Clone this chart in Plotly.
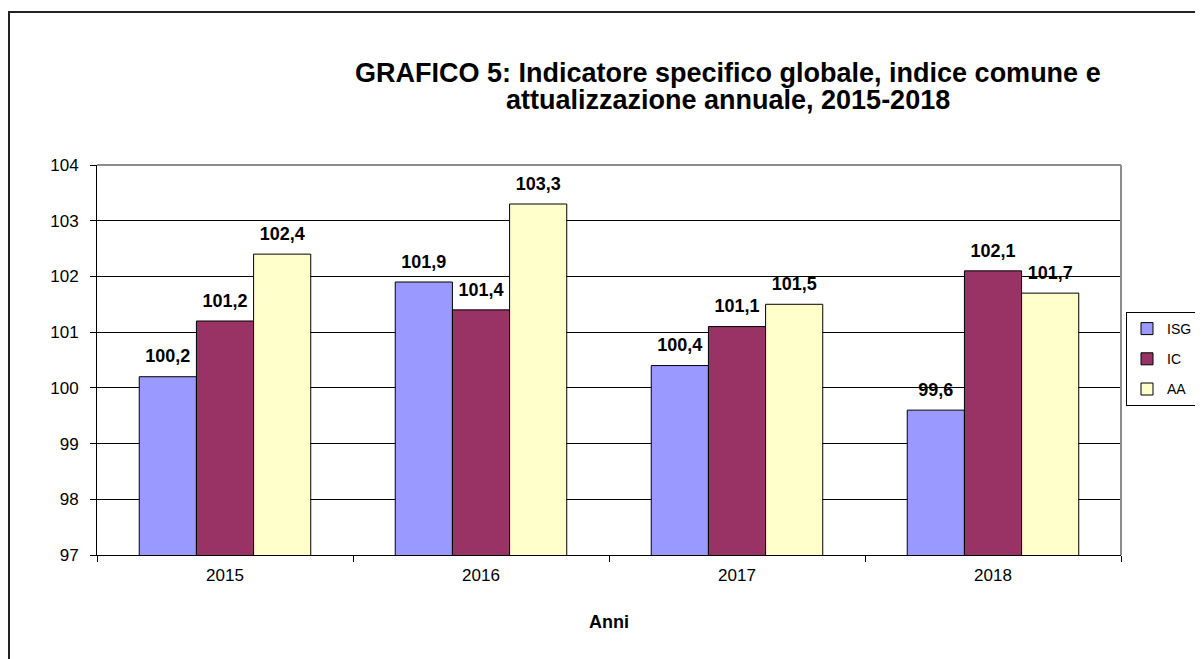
import plotly.graph_objects as go

years = ["2015", "2016", "2017", "2018"]
isg = [100.2, 101.9, 100.4, 99.6]
ic = [101.2, 101.4, 101.1, 102.1]
aa = [102.4, 103.3, 101.5, 101.7]
series_names = ["ISG", "IC", "AA"]
colors = ["#9999FF", "#993366", "#FFFFCC"]
title_lines = ["GRAFICO 5: Indicatore specifico globale, indice comune e",
               "attualizzazione annuale, 2015-2018"]

FONT = "Liberation Sans, Arial, Helvetica, sans-serif"

fig = go.Figure()
for name, vals, col in zip(series_names, [isg, ic, aa], colors):
    fig.add_trace(go.Bar(
        x=years, y=vals, name=name, legendgroup=name,
        offsetgroup=name, alignmentgroup="g",
        marker=dict(color=col, line=dict(color="black", width=1)),
        hoverinfo="x+y+name",
    ))
for name, vals in zip(series_names, [isg, ic, aa]):
    fig.add_trace(go.Scatter(
        x=years, y=vals, name=name, legendgroup=name, showlegend=False,
        offsetgroup=name, alignmentgroup="g",
        mode="markers+text", marker=dict(size=14, opacity=0),
        texttemplate="%{y:.1f}", textposition="top center",
        textfont=dict(family=FONT, size=18, color="black", weight="bold"),
        cliponaxis=False, hoverinfo="skip",
    ))

# page has an 8px body margin, so the figure is drawn 8px in and down
W, H = 1195, 651
L, R, T, B = 89, 82, 157, 104
pw, ph = W - L - R, H - T - B

def px(xf):
    return (xf - L) / pw

def py(yf):
    return (H - B - yf) / ph

annotations = [
    dict(text=title_lines[0], x=px(720), y=py(65), xref="paper", yref="paper",
         xanchor="center", yanchor="middle", showarrow=False,
         font=dict(family=FONT, size=27, color="black", weight="bold")),
    dict(text=title_lines[1], x=px(720), y=py(92), xref="paper", yref="paper",
         xanchor="center", yanchor="middle", showarrow=False,
         font=dict(family=FONT, size=27, color="black", weight="bold")),
]

fig.update_layout(
    width=W, height=H,
    margin=dict(l=L, r=R, t=T, b=B, autoexpand=False),
    paper_bgcolor="white", plot_bgcolor="white",
    separators=",.",
    barmode="group", bargap=0.33, bargroupgap=0,
    scattermode="group", scattergap=0.33,
    font=dict(family=FONT, size=17, color="black"),
    annotations=annotations,
    legend=dict(
        x=px(1118), xanchor="left",
        y=py(304), yanchor="top",
        bgcolor="white", bordercolor="black", borderwidth=1,
        font=dict(family=FONT, size=14, color="black"),
        traceorder="grouped", tracegroupgap=9,
        itemwidth=30,
    ),
    xaxis=dict(
        showline=True, linecolor="black", linewidth=1,
        ticks="outside", ticklen=6, tickcolor="black", tickson="boundaries",
        ticklabelstandoff=5,
        tickfont=dict(family=FONT, size=17, color="black"),
        title=dict(text="Anni", font=dict(family=FONT, size=18, color="black", weight="bold"), standoff=30),
    ),
    yaxis=dict(
        range=[97, 104], dtick=1, tick0=97,
        showline=True, linecolor="black", linewidth=1,
        showgrid=True, gridcolor="black", gridwidth=1,
        ticks="outside", ticklen=6, tickcolor="black",
        ticklabelstandoff=8,
        tickfont=dict(family=FONT, size=17, color="black"),
        zeroline=False,
    ),
    shapes=[
        dict(type="line", xref="paper", yref="paper", x0=0, x1=1, y0=1, y1=1,
             line=dict(color="#8c8c8c", width=2), layer="above"),
        dict(type="line", xref="paper", yref="paper", x0=1, x1=1, y0=0, y1=1,
             line=dict(color="#8c8c8c", width=2), layer="above"),
        dict(type="rect", xref="paper", yref="paper",
             x0=px(1), x1=px(W + 20), y0=py(H + 20), y1=py(4),
             line=dict(color="#222222", width=2), fillcolor="rgba(0,0,0,0)", layer="above"),
    ],
)

fig.write_html("out.html")
